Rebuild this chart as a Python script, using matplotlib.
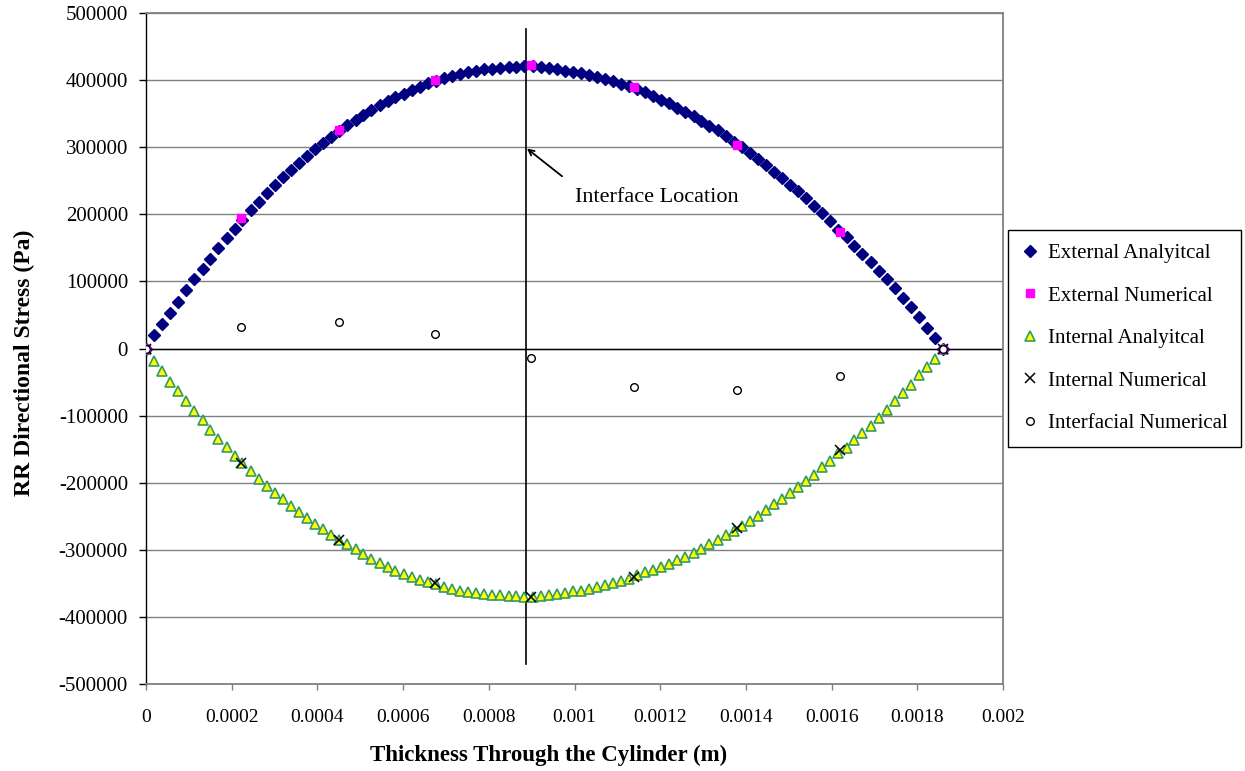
import matplotlib
matplotlib.use('Agg')
import matplotlib.pyplot as plt
import numpy as np

# thickness positions of the analytical curves (micrometres)
x_analytical_um = [0, 19, 38, 56, 75, 94, 113, 132, 150, 169, 188, 207, 225, 244, 263, 282, 301, 319, 338, 357,
                   376, 395, 413, 432, 451, 470, 489, 507, 526, 545, 564, 582, 601, 620, 639, 658, 676, 695, 714, 733,
                   752, 770, 789, 808, 827, 846, 864, 883, 902, 921, 940, 958, 977, 996, 1015, 1033, 1052, 1071, 1090, 1109,
                   1127, 1146, 1165, 1184, 1203, 1221, 1240, 1259, 1278, 1296, 1315, 1334, 1353, 1372, 1390, 1409, 1428, 1447, 1466, 1484,
                   1503, 1522, 1541, 1560, 1578, 1597, 1616, 1635, 1653, 1672, 1691, 1710, 1729, 1747, 1766, 1785, 1804, 1823, 1841, 1860]

external_analytical = [0, 20000, 36000, 53000, 69000, 87000, 104000, 119000, 134000, 150000,
                       164000, 178000, 192000, 206000, 219000, 231000, 243000, 255000, 266000, 277000,
                       287000, 297000, 306000, 315000, 324000, 333000, 341000, 348000, 356000, 363000,
                       369000, 375000, 380000, 385000, 390000, 395000, 399000, 403000, 406000, 409000,
                       412000, 414000, 416000, 417000, 418000, 419000, 420000, 421000, 421000, 420000,
                       418000, 416000, 414000, 412000, 410000, 407000, 405000, 401000, 398000, 394000,
                       391000, 387000, 382000, 377000, 371000, 366000, 359000, 353000, 346000, 339000,
                       332000, 325000, 317000, 308000, 300000, 291000, 282000, 273000, 263000, 254000,
                       244000, 234000, 224000, 213000, 202000, 190000, 177000, 166000, 153000, 141000,
                       129000, 116000, 103000, 90000, 76000, 62000, 47000, 31000, 16000, 0]

internal_analytical = [0, -18000, -34000, -50000, -63000, -78000, -93000, -107000, -121000, -135000,
                       -147000, -160000, -170000, -183000, -195000, -205000, -215000, -225000, -234000, -243000,
                       -252000, -261000, -269000, -278000, -285000, -292000, -299000, -306000, -313000, -320000,
                       -325000, -331000, -336000, -341000, -345000, -348000, -351000, -356000, -359000, -361000,
                       -363000, -365000, -366000, -367000, -368000, -369000, -369000, -370000, -370000, -369000,
                       -367000, -366000, -365000, -362000, -361000, -358000, -355000, -352000, -350000, -346000,
                       -343000, -338000, -333000, -330000, -326000, -321000, -315000, -311000, -305000, -299000,
                       -291000, -285000, -278000, -272000, -265000, -257000, -249000, -241000, -232000, -224000,
                       -215000, -206000, -197000, -188000, -177000, -168000, -156000, -148000, -137000, -126000,
                       -115000, -103000, -91000, -78000, -67000, -54000, -40000, -28000, -15000, 0]

# numerical nodes (micrometres)
x_numerical_um = [0, 222, 451, 674, 898, 1138, 1379, 1620, 1860]
external_numerical = [0, 195000, 326000, 400000, 422000, 389000, 304000, 173000, 0]
internal_numerical = [0, -170000, -285000, -350000, -370000, -341000, -268000, -152000, 0]
interfacial_numerical = [0, 32000, 39000, 21000, -14500, -57000, -62000, -41000, 0]

interface_x_um = 887
interface_y = [476000, -470000]

x_an = np.array(x_analytical_um) * 1e-6
x_num = np.array(x_numerical_um) * 1e-6
x_if = interface_x_um * 1e-6

plt.rcParams['font.family'] = ['Liberation Serif', 'DejaVu Serif']

fig = plt.figure(figsize=(12.45, 7.71), dpi=100)
ax = fig.add_axes([146 / 1245, 1 - 684 / 771, (1003 - 146) / 1245, (684 - 13) / 771])

grey = '#808080'
ax.set_xlim(0, 0.002)
ax.set_ylim(-500000, 500000)
ax.set_xticks(np.arange(0, 0.00201, 0.0002))
ax.set_xticklabels(['0', '0.0002', '0.0004', '0.0006', '0.0008', '0.001',
                    '0.0012', '0.0014', '0.0016', '0.0018', '0.002'])
ax.set_yticks(np.arange(-500000, 500001, 100000))
ax.set_yticklabels([str(v) for v in range(-500000, 500001, 100000)])
ax.yaxis.grid(True, color=grey, lw=1.0)
ax.set_axisbelow(True)
ax.axhline(0, color='black', lw=1.0, zorder=1)

for side in ['top', 'right', 'bottom']:
    ax.spines[side].set_color(grey)
    ax.spines[side].set_linewidth(1.3)
ax.spines['left'].set_color('black')
ax.spines['left'].set_linewidth(1.0)
ax.tick_params(axis='y', direction='out', length=5, width=1, colors='black', labelsize=15, pad=8)
ax.tick_params(axis='x', direction='out', length=4, width=1, color=grey, labelcolor='black', labelsize=14, pad=14)

ax.plot([x_if, x_if], interface_y, color='black', lw=1.2, zorder=2)

ax.plot(x_an, external_analytical, ls='none', marker='D', ms=6.5, color='#000080',
        label='External Analyitcal', zorder=3)
ax.plot(x_num, external_numerical, ls='none', marker='s', ms=5.5, color='#FF00FF',
        label='External Numerical', zorder=4)
ax.plot(x_an, internal_analytical, ls='none', marker='^', ms=7, mfc='#FFFF00', mec='#339966',
        mew=1.2, label='Internal Analyitcal', zorder=3)
ax.plot(x_num, internal_numerical, ls='none', marker='x', ms=7, mew=1.1, color='black',
        label='Internal Numerical', zorder=5)
ax.plot(x_num, interfacial_numerical, ls='none', marker='o', ms=5.5, mfc='white', mec='black',
        mew=1.0, label='Interfacial Numerical', zorder=5)

# interface label and arrow
ax.annotate('', xy=(0.000889, 298000), xytext=(0.000971, 256700),
            arrowprops=dict(arrowstyle='->', color='black', lw=1.3, shrinkA=0, shrinkB=0))
ax.text(0.001001, 225400, 'Interface Location', fontsize=16, va='center', ha='left')

ax.set_xlabel('Thickness Through the Cylinder (m)', fontsize=16.5, fontweight='bold', va='top')
ax.xaxis.set_label_coords((549 - 146) / 857, -(745 - 684) / 671)
ax.set_ylabel('RR Directional Stress (Pa)', fontsize=17, fontweight='bold')
ax.yaxis.set_label_coords((35 - 146) / 857, 1 - (363 - 13) / 671)

leg = fig.legend(loc='upper left', bbox_to_anchor=(1008 / 1245, 1 - 230 / 771), fontsize=15,
                 frameon=True, fancybox=False, edgecolor='black', framealpha=1,
                 handlelength=0.8, handletextpad=0.45, labelspacing=1.1, borderpad=0.65,
                 borderaxespad=0)
leg.get_frame().set_linewidth(1.0)

fig.savefig('out.png', dpi=100)
